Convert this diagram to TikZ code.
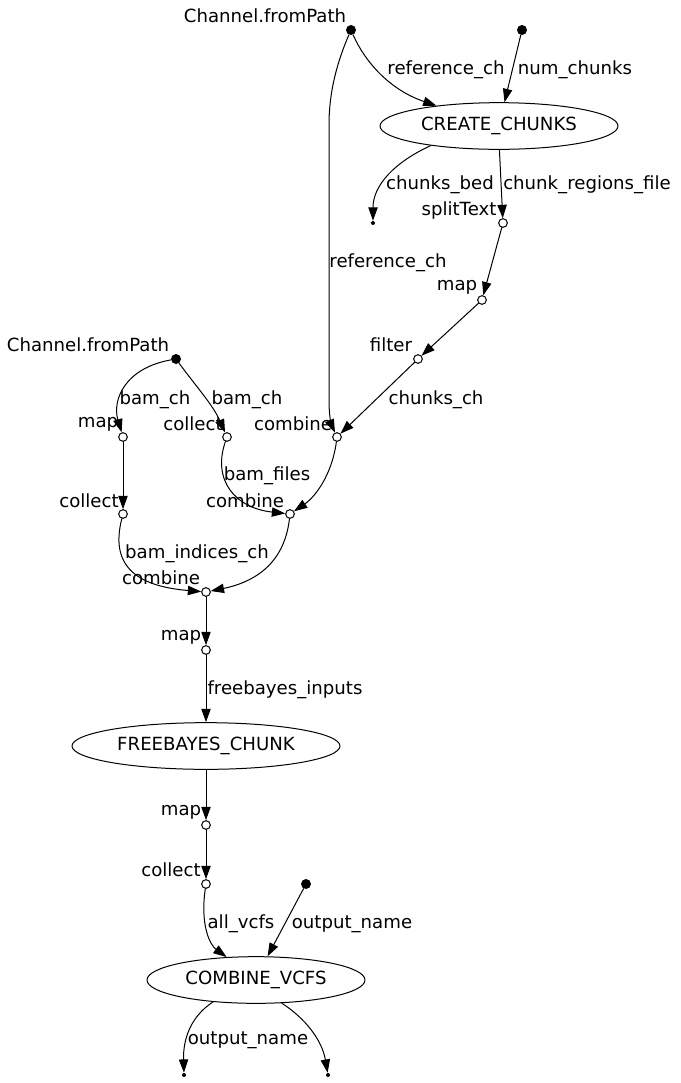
\documentclass[tikz,border=0pt]{standalone}
\usepackage{fontspec}
\setmainfont{DejaVu Sans}
\usetikzlibrary{arrows.meta,shapes.geometric}

\begin{document}
\begin{tikzpicture}[x=0.75pt,y=-0.75pt,line cap=round,line join=round,
    font=\fontsize{13.6}{16}\selectfont,
    every node/.style={inner sep=0pt},
    src/.style={circle,fill=black,minimum size=7.5pt},
    op/.style={circle,draw,line width=0.75pt,fill=white,minimum size=6.5pt},
    term/.style={circle,fill=black,minimum size=3pt},
    proc/.style={ellipse,draw,line width=0.75pt,minimum width=#1,minimum height=35pt},
    lbl/.style={anchor=center,yshift=-1.5pt},
    flow/.style={-{Triangle[length=10pt,width=7pt]},line width=0.75pt}]

    \useasboundingbox (0,0) rectangle (681,1083);

    % channels and processes
    \node[src] (path1) at (351,30) {};
    \node[lbl] (path1lbl) at (265,14) {Channel.fromPath};
    \node[src] (numch) at (522,30) {};
    \node[proc=178.5pt] (create) at (499,126) {CREATE\_CHUNKS};
    \node[term] (bed) at (373,223) {};
    \node[op] (split) at (503,223) {};
    \node[lbl] (splitlbl) at (459,208) {splitText};
    \node[op] (map1) at (482,300) {};
    \node[lbl] (map1lbl) at (457,285) {map};
    \node[op] (filt) at (418,359) {};
    \node[lbl] (filtlbl) at (391,343) {filter};
    \node[op] (comb1) at (337,437) {};
    \node[lbl] (comb1lbl) at (293,422) {combine};

    \node[src] (path2) at (176,359) {};
    \node[lbl] (path2lbl) at (88,343) {Channel.fromPath};
    \node[op] (map2) at (123,437) {};
    \node[lbl] (map2lbl) at (98,422) {map};
    \node[op] (coll1) at (227,437) {};
    \node[lbl] (coll1lbl) at (193,422) {collect};
    \node[op] (coll2) at (123,514) {};
    \node[lbl] (coll2lbl) at (89,499) {collect};
    \node[op] (comb2) at (290,514) {};
    \node[lbl] (comb2lbl) at (245,499) {combine};
    \node[op] (comb3) at (206,592) {};
    \node[lbl] (comb3lbl) at (161,576) {combine};
    \node[op] (map3) at (206,650) {};
    \node[lbl] (map3lbl) at (181,635) {map};

    \node[proc=201pt] (freeb) at (206,746) {FREEBAYES\_CHUNK};
    \node[op] (map4) at (206,825) {};
    \node[lbl] (map4lbl) at (181,810) {map};
    \node[op] (coll3) at (206,884) {};
    \node[lbl] (coll3lbl) at (171,868) {collect};
    \node[src] (outn) at (306,884) {};
    \node[proc=163.5pt] (combv) at (256,980) {COMBINE\_VCFS};
    \node[term] (out1) at (184,1075) {};
    \node[term] (out2) at (328,1075) {};

    % edges
    \draw[flow] (path1) .. controls (365,62) and (390,90) .. (create.162);
    \draw[flow] (numch) -- (create.77);
    \draw[flow] (create.196) .. controls (395,162) and (373,185) .. (bed);
    \draw[flow] (create.271) -- (split);
    \draw[flow] (split) -- (map1);
    \draw[flow] (map1) -- (filt);
    \draw[flow] (filt) -- (comb1);
    \draw[flow] (path1) .. controls (338,60) and (329,90) .. (329,125) -- (329,400)
        .. controls (329,418) and (332,426) .. (comb1);

    \draw[flow] (path2) .. controls (125,368) and (112,400) .. (map2);
    \draw[flow] (path2) .. controls (195,385) and (213,405) .. (coll1);
    \draw[flow] (map2) -- (coll2);
    \draw[flow] (coll1) .. controls (212,480) and (235,508) .. (comb2);
    \draw[flow] (comb1) .. controls (332,475) and (315,497) .. (comb2);
    \draw[flow] (coll2) .. controls (110,565) and (135,586) .. (comb3);
    \draw[flow] (comb2) .. controls (284,567) and (250,583) .. (comb3);
    \draw[flow] (comb3) -- (map3);
    \draw[flow] (map3) -- (freeb);
    \draw[flow] (freeb) -- (map4);
    \draw[flow] (map4) -- (coll3);
    \draw[flow] (coll3) .. controls (200,925) and (210,945) .. (combv.142);
    \draw[flow] (outn) -- (combv.64);
    \draw[flow] (combv.207) .. controls (190,1017) and (183,1040) .. (out1);
    \draw[flow] (combv.318) .. controls (305,1018) and (322,1040) .. (out2);

    % edge labels
    \node[lbl] (l1) at (446,68) {reference\_ch};
    \node[lbl] (l2) at (575,68) {num\_chunks};
    \node[lbl] (l3) at (440,183) {chunks\_bed};
    \node[lbl] (l4) at (587,183) {chunk\_regions\_file};
    \node[lbl] (l5) at (388,261) {reference\_ch};
    \node[lbl] (l6) at (436,398) {chunks\_ch};
    \node[lbl] (l7) at (155,398) {bam\_ch};
    \node[lbl] (l8) at (247,398) {bam\_ch};
    \node[lbl] (l9) at (267,474) {bam\_files};
    \node[lbl] (l10) at (197,552) {bam\_indices\_ch};
    \node[lbl] (l11) at (285,688) {freebayes\_inputs};
    \node[lbl] (l12) at (241,922) {all\_vcfs};
    \node[lbl] (l13) at (352,922) {output\_name};
    \node[lbl] (l14) at (248,1038) {output\_name};
\end{tikzpicture}
\end{document}
